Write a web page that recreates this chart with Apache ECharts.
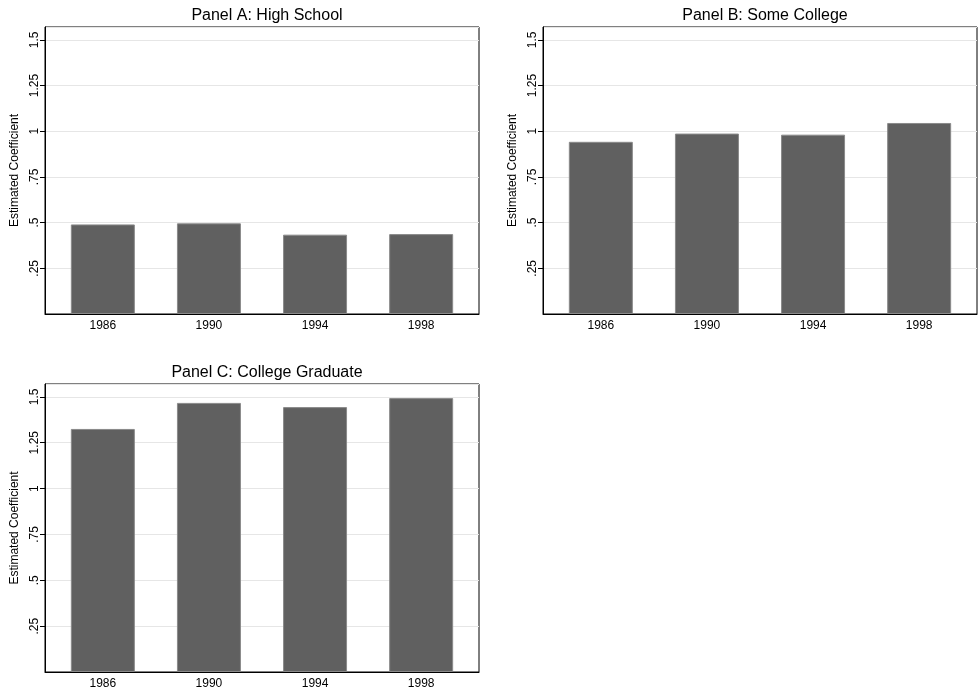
<!DOCTYPE html>
<html>
<head>
<meta charset="utf-8">
<script src="https://cdn.jsdelivr.net/npm/echarts@6/dist/echarts.min.js"></script>
<style>html,body{margin:0;padding:0;background:#fff;}#chart{width:980px;height:697px;}</style>
</head>
<body>
<div id="chart"></div>
<script>
const years = [1986, 1990, 1994, 1998];
const highSchool = [0.490, 0.496, 0.434, 0.437];
const someCollege = [0.942, 0.987, 0.981, 1.045];
const collegeGrad = [1.325, 1.467, 1.444, 1.493];
const panelTitles = ['Panel A: High School', 'Panel B: Some College', 'Panel C: College Graduate'];
const yAxisTitle = 'Estimated Coefficient';

const FONT = '"Liberation Sans", Arial, Helvetica, sans-serif';
const chart = echarts.init(document.getElementById('chart'), null, {renderer: 'canvas'});

const grids = [
  {left: 45, top: 27, width: 434, height: 287},
  {left: 543, top: 27, width: 434, height: 287},
  {left: 45, top: 384, width: 434, height: 288}
];
const seriesData = [highSchool, someCollege, collegeGrad];

function fmtY(v) {
  let s = String(Math.round(v * 100) / 100);
  if (s.startsWith('0.')) s = s.slice(1);
  return s;
}

const option = {
  backgroundColor: '#fff',
  animation: false,
  title: grids.map((g, i) => ({
    text: panelTitles[i],
    left: g.left + g.width / 2,
    top: g.top - 24,
    textAlign: 'center',
    textStyle: {fontFamily: FONT, fontSize: 16, fontWeight: 'normal', color: '#000'}
  })),
  grid: grids.map(g => Object.assign({show: true, borderColor: '#000', borderWidth: 1, backgroundColor: '#fff', containLabel: false}, g)),
  xAxis: grids.map((g, i) => ({
    type: 'value',
    gridIndex: i,
    min: 1983.82,
    max: 2000.18,
    splitLine: {show: false},
    axisLine: {show: true, onZero: false, lineStyle: {color: '#000', width: 1}},
    axisTick: {show: false, customValues: years},
    axisLabel: {
      customValues: years,
      fontFamily: FONT, fontSize: 12, color: '#000', margin: 6,
      formatter: v => String(v)
    }
  })),
  yAxis: grids.map((g, i) => ({
    type: 'value',
    gridIndex: i,
    min: 0,
    max: 1.57,
    interval: 0.25,
    name: yAxisTitle,
    nameLocation: 'middle',
    nameRotate: 90,
    nameGap: 24,
    nameTextStyle: {fontFamily: FONT, fontSize: 12, color: '#000'},
    axisLine: {show: true, onZero: false, lineStyle: {color: '#000', width: 1}},
    axisTick: {show: true, length: 5, lineStyle: {color: '#000'}},
    splitLine: {show: true, lineStyle: {color: '#e6e6e6', width: 1}},
    axisLabel: {
      rotate: 90,
      showMinLabel: false,
      showMaxLabel: false,
      fontFamily: FONT, fontSize: 12, color: '#000', margin: 4,
      formatter: v => fmtY(v)
    }
  })),
  series: seriesData.map((arr, i) => ({
    type: 'bar',
    xAxisIndex: i,
    yAxisIndex: i,
    barWidth: 64,
    data: years.map((y, k) => [y, arr[k]]),
    itemStyle: {color: '#606060', borderColor: '#8a8a8a', borderWidth: 1}
  }))
};
chart.setOption(option);
</script>
</body>
</html>
